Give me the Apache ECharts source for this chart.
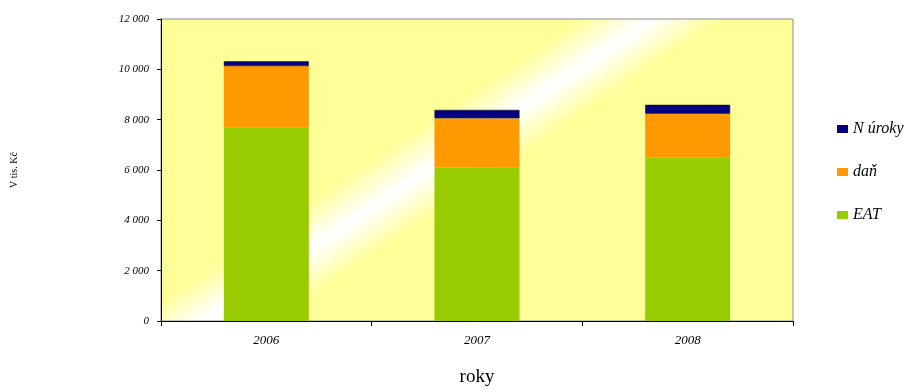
<!DOCTYPE html>
<html>
<head>
<meta charset="utf-8">
<script src="https://cdn.jsdelivr.net/npm/echarts@6/dist/echarts.min.js"></script>
<style>
html, body { margin: 0; padding: 0; background: #fff; overflow: hidden; }
#chart { width: 914px; height: 392px; }
</style>
</head>
<body>
<div id="chart"></div>
<script>
// Years on the category axis
const years = ['2006', '2007', '2008'];
// Stacked components, thousands of CZK
const eat = [7680, 6090, 6510];
const dan = [2450, 1960, 1725];
const uroky = [190, 340, 355];
// Value axis ticks
const yTicks = [0, 2000, 4000, 6000, 8000, 10000, 12000];

const serif = '"Liberation Serif", "Times New Roman", serif';
const yellow = '#FFFF99';

function fmt(v) {
  return String(v).replace(/\B(?=(\d{3})+(?!\d))/g, ' ');
}

const chart = echarts.init(document.getElementById('chart'), null, { renderer: 'canvas' });

chart.setOption({
  animation: false,
  grid: {
    left: 161, right: 121, top: 19, bottom: 67,
    show: true,
    borderColor: '#8c8c8c',
    borderWidth: 1,
    // diagonal light streak across the plot background
    backgroundColor: {
      type: 'linear', global: true,
      x: 366, y: 91, x2: 478, y2: 257,
      colorStops: [
        { offset: 0, color: yellow },
        { offset: 0.30, color: yellow },
        { offset: 0.49, color: '#FFFFFF' },
        { offset: 0.51, color: '#FFFFFF' },
        { offset: 0.70, color: yellow },
        { offset: 1, color: yellow }
      ]
    }
  },
  legend: {
    orient: 'vertical',
    left: 832, top: 116,
    itemWidth: 11, itemHeight: 8, itemGap: 27,
    icon: 'rect',
    itemStyle: { borderWidth: 0 },
    data: ['N úroky', 'daň', 'EAT'],
    textStyle: { fontFamily: serif, fontStyle: 'italic', fontSize: 16, color: '#000', padding: [0, 0, 0, 0] }
  },
  xAxis: {
    type: 'category',
    data: years,
    boundaryGap: true,
    name: 'roky',
    nameLocation: 'middle',
    nameGap: 47,
    nameTextStyle: { fontFamily: serif, fontSize: 19, color: '#000' },
    axisLine: { lineStyle: { color: '#000', width: 1 } },
    axisTick: { show: true, length: 5, alignWithLabel: false, lineStyle: { color: '#000' } },
    axisLabel: { fontFamily: serif, fontStyle: 'italic', fontSize: 13, color: '#000', margin: 13 }
  },
  yAxis: {
    type: 'value',
    min: yTicks[0], max: yTicks[yTicks.length - 1], interval: yTicks[1] - yTicks[0],
    name: 'V tis. Kč',
    nameLocation: 'middle',
    nameGap: 142,
    nameRotate: 90,
    nameTextStyle: { fontFamily: serif, fontSize: 10, color: '#000' },
    axisLine: { show: true, lineStyle: { color: '#000', width: 1 } },
    axisTick: { show: true, length: 4, lineStyle: { color: '#000' } },
    splitLine: { show: false },
    axisLabel: { fontFamily: serif, fontStyle: 'italic', fontSize: 11, color: '#000', margin: 12, formatter: fmt }
  },
  series: [
    { name: 'EAT', type: 'bar', stack: 'total', data: eat, barWidth: 85, itemStyle: { color: '#99CC00' } },
    { name: 'daň', type: 'bar', stack: 'total', data: dan, barWidth: 85, itemStyle: { color: '#FF9900' } },
    { name: 'N úroky', type: 'bar', stack: 'total', data: uroky, barWidth: 85,
      itemStyle: { color: '#000080', borderColor: '#1a1a2a', borderWidth: 0.6 } }
  ]
});
</script>
</body>
</html>
